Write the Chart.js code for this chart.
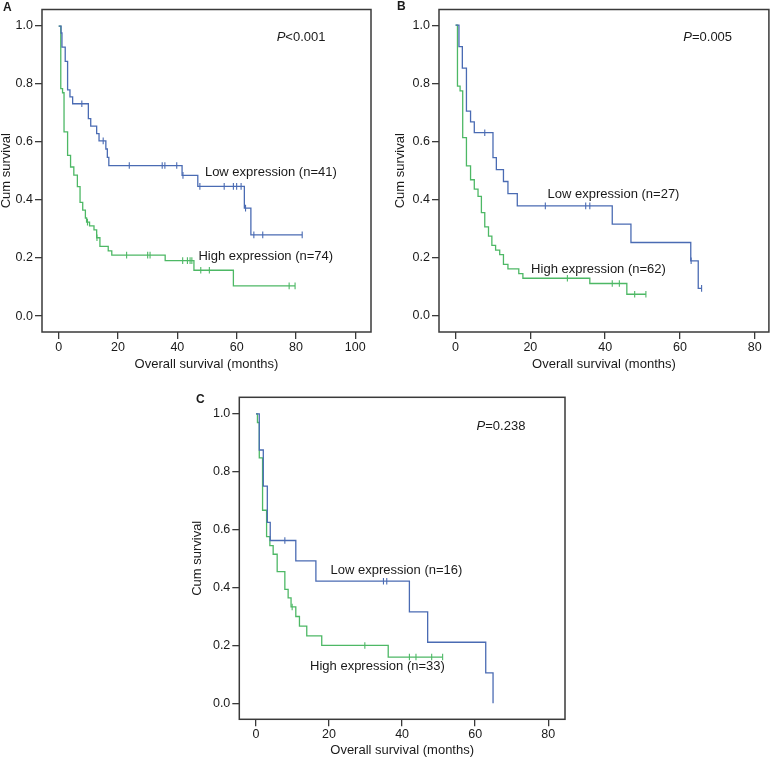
<!DOCTYPE html>
<html><head><meta charset="utf-8">
<script src="https://cdn.jsdelivr.net/npm/chart.js@4.4.0/dist/chart.umd.min.js"></script>
<style>
html,body{margin:0;padding:0;background:#fff;width:774px;height:758px;overflow:hidden}
canvas{position:absolute;left:0;top:0}
</style></head><body>
<canvas id="cA" width="774" height="758"></canvas>
<canvas id="cB" width="774" height="758"></canvas>
<canvas id="cC" width="774" height="758"></canvas>
<script>
// ---------- Panel A data ----------
const aLowTimes = [0, 0.8, 1.1, 2.2, 3.0, 3.8, 4.7, 10.0, 10.8, 12.8, 13.6, 15.9, 16.4, 16.9, 41.6, 46.9, 62.6, 64.8];
const aLowSurv  = [1.0, 0.976, 0.927, 0.878, 0.780, 0.756, 0.732, 0.681, 0.655, 0.629, 0.604, 0.576, 0.547, 0.519, 0.485, 0.447, 0.372, 0.280];
const aLowCensored = [7.8, 15.0, 23.8, 34.9, 35.8, 39.8, 41.9, 47.6, 55.8, 58.9, 60.0, 61.5, 63.0, 65.8, 68.8, 82.1];
const aHighTimes = [0, 0.7, 1.3, 1.8, 3.0, 4.0, 5.1, 6.3, 7.2, 8.1, 9.0, 9.4, 10.4, 11.9, 12.8, 13.9, 16.7, 17.9, 35.9, 45.6, 58.9];
const aHighSurv  = [1.0, 0.784, 0.770, 0.635, 0.554, 0.514, 0.486, 0.446, 0.392, 0.365, 0.338, 0.324, 0.311, 0.297, 0.270, 0.240, 0.225, 0.210, 0.191, 0.158, 0.104];
const aHighCensored = [9.7, 12.9, 22.9, 30.0, 30.8, 41.8, 43.4, 44.3, 44.9, 47.9, 50.8, 77.7, 79.7];
const aXTicks = [0, 20, 40, 60, 80, 100];

// ---------- Panel B data ----------
const bLowTimes = [0, 0.9, 1.8, 2.9, 4.0, 5.0, 10.0, 10.9, 12.8, 14.0, 16.5, 41.9, 46.9, 62.9, 64.9];
const bLowSurv  = [1.0, 0.926, 0.852, 0.704, 0.667, 0.630, 0.544, 0.503, 0.462, 0.420, 0.378, 0.315, 0.252, 0.189, 0.094];
const bLowCensored = [7.8, 24.0, 34.8, 35.9, 63.0, 65.8];
const bHighTimes = [0, 0.5, 1.2, 1.9, 2.9, 4.0, 5.0, 6.0, 6.9, 7.8, 8.8, 9.7, 10.7, 11.8, 12.8, 14.0, 16.9, 18.0, 35.9, 45.8];
const bHighSurv  = [1.0, 0.790, 0.774, 0.613, 0.516, 0.468, 0.436, 0.411, 0.355, 0.306, 0.274, 0.242, 0.226, 0.210, 0.177, 0.161, 0.145, 0.129, 0.111, 0.074];
const bHighCensored = [29.9, 41.9, 43.8, 47.9, 50.9];
const bXTicks = [0, 20, 40, 60, 80];

// ---------- Panel C data ----------
const cLowTimes = [0, 0.9, 2.0, 3.1, 3.9, 10.9, 16.4, 42.0, 47.0, 62.9, 64.9];
const cLowSurv  = [1.0, 0.875, 0.750, 0.625, 0.5625, 0.492, 0.422, 0.316, 0.211, 0.105, 0.0];
const cLowCensored = [7.9, 34.9, 35.8];
const cHighTimes = [0, 0.4, 0.9, 1.8, 2.9, 3.8, 4.7, 5.8, 7.9, 8.8, 9.6, 10.9, 11.9, 13.9, 18.0, 36.2];
const cHighSurv  = [1.0, 0.970, 0.848, 0.667, 0.576, 0.545, 0.515, 0.455, 0.394, 0.364, 0.333, 0.300, 0.267, 0.233, 0.200, 0.160];
const cHighCensored = [9.9, 29.8, 42.0, 43.8, 48.1, 51.1];
const cXTicks = [0, 20, 40, 60, 80];

const yTicks = [0.0, 0.2, 0.4, 0.6, 0.8, 1.0];
const lowLabels = ['Low expression (n=41)', 'Low expression (n=27)', 'Low expression (n=16)'];
const highLabels = ['High expression (n=74)', 'High expression (n=62)', 'High expression (n=33)'];
const pValues = ['<0.001', '=0.005', '=0.238'];

// ---------- styling ----------
const FONT = '"Liberation Sans", Arial, Helvetica, sans-serif';
const BLUE = '#4a6bb3';
const GREEN = '#4db865';
const FRAME = '#3a3a3a';
const TEXT = '#1a1a1a';
Chart.defaults.font.family = FONT;

function stepLine(times, surv, censored) {
  const pts = times.map((t, i) => ({x: t, y: surv[i]}));
  const end = Math.max(times[times.length - 1], censored.length ? censored[censored.length - 1] : 0);
  if (end > times[times.length - 1]) pts.push({x: end, y: surv[surv.length - 1]});
  return pts;
}
function censorPoints(times, surv, censored) {
  return censored.map(c => {
    let s = surv[0];
    for (let i = 0; i < times.length; i++) if (times[i] <= c) s = surv[i];
    return {x: c, y: s};
  });
}

const decor = {
  id: 'decor',
  beforeDatasetsDraw(chart, args, o) {
    const {ctx, chartArea: a} = chart;
    ctx.save();
    ctx.strokeStyle = FRAME; ctx.lineWidth = 1.5;
    ctx.strokeRect(a.left, a.top, a.right - a.left, a.bottom - a.top);
    ctx.restore();
  },
  afterDraw(chart, args, o) {
    const {ctx} = chart; const sx = chart.scales.x, sy = chart.scales.y;
    ctx.save();
    ctx.fillStyle = TEXT; ctx.textBaseline = 'middle'; ctx.textAlign = 'left';
    const px = sx.getPixelForValue(o.pPos[0]), py = sy.getPixelForValue(o.pPos[1]);
    ctx.font = 'italic 13px ' + FONT; ctx.fillText('P', px, py);
    const w = ctx.measureText('P').width;
    ctx.font = '13px ' + FONT; ctx.fillText(o.pText, px + w, py);
    ctx.fillText(o.lowText, sx.getPixelForValue(o.lowPos[0]), sy.getPixelForValue(o.lowPos[1]));
    ctx.fillText(o.highText, sx.getPixelForValue(o.highPos[0]), sy.getPixelForValue(o.highPos[1]));
    ctx.font = 'bold 12px ' + FONT; ctx.textBaseline = 'alphabetic';
    ctx.fillText(o.letter, o.letterXY[0], o.letterXY[1]);
    ctx.restore();
  }
};

function makePanel(id, d) {
  const lineDs = (data, color) => ({data, stepped: true, borderColor: color, borderWidth: 1.3, pointRadius: 0, fill: false});
  const cenDs = (data, color) => ({data, showLine: false, pointStyle: 'line', rotation: 90, pointRadius: 3.3, borderColor: color, borderWidth: 1.1, backgroundColor: color});
  new Chart(document.getElementById(id), {
    type: 'line',
    data: {datasets: [
      lineDs(stepLine(d.lowT, d.lowS, d.lowC), BLUE),
      lineDs(stepLine(d.highT, d.highS, d.highC), GREEN),
      cenDs(censorPoints(d.lowT, d.lowS, d.lowC), BLUE),
      cenDs(censorPoints(d.highT, d.highS, d.highC), GREEN)
    ]},
    options: {
      responsive: false, animation: false, devicePixelRatio: 1,
      layout: {padding: d.pad},
      plugins: {legend: {display: false}, tooltip: {enabled: false}, decor: d.decor},
      scales: {
        x: {
          type: 'linear', min: d.xMin, max: d.xMax,
          afterBuildTicks: s => { s.ticks = d.xTicks.map(v => ({value: v})); },
          afterFit: s => { s.height = d.xH; },
          grid: {drawOnChartArea: false, tickLength: 7, color: FRAME, lineWidth: 1.3},
          border: {display: false},
          ticks: {font: {size: 12.5}, color: TEXT, padding: 1, maxRotation: 0, autoSkip: false, callback: v => String(v)},
          title: {display: true, text: 'Overall survival (months)', font: {size: 13, lineHeight: 1}, color: TEXT, padding: 0}
        },
        y: {
          type: 'linear', min: d.yMin, max: d.yMax,
          afterBuildTicks: s => { s.ticks = yTicks.map(v => ({value: v})); },
          afterFit: s => { s.width = d.yW; },
          grid: {drawOnChartArea: false, tickLength: 7, color: FRAME, lineWidth: 1.3},
          border: {display: false},
          ticks: {font: {size: 12.5}, color: TEXT, padding: 2, autoSkip: false, callback: v => v.toFixed(1)},
          title: {display: true, text: 'Cum survival', font: {size: 13, lineHeight: 1}, color: TEXT, padding: 0}
        }
      }
    },
    plugins: [decor]
  });
}

makePanel('cA', {
  lowT: aLowTimes, lowS: aLowSurv, lowC: aLowCensored,
  highT: aHighTimes, highS: aHighSurv, highC: aHighCensored,
  xTicks: aXTicks, xMin: -5.63, xMax: 105.3, yMin: -0.055, yMax: 1.057,
  yW: 42, xH: 38.8, pad: {left: 0, right: 403, top: 8, bottom: 387.2},
  decor: {pText: pValues[0], pPos: [73.5, 0.961], lowText: lowLabels[0], lowPos: [49.3, 0.495],
          highText: highLabels[0], highPos: [47.1, 0.206], letter: 'A', letterXY: [3, 10.5]}
});
makePanel('cB', {
  lowT: bLowTimes, lowS: bLowSurv, lowC: bLowCensored,
  highT: bHighTimes, highS: bHighSurv, highC: bHighCensored,
  xTicks: bXTicks, xMin: -4.44, xMax: 83.8, yMin: -0.056, yMax: 1.054,
  yW: 45.5, xH: 38.8, pad: {left: 393.5, right: 3, top: 3, bottom: 387.2},
  decor: {pText: pValues[1], pPos: [60.9, 0.957], lowText: lowLabels[1], lowPos: [24.6, 0.417],
          highText: highLabels[1], highPos: [20.2, 0.159], letter: 'B', letterXY: [397, 9.5]}
});
makePanel('cC', {
  lowT: cLowTimes, lowS: cLowSurv, lowC: cLowCensored,
  highT: cHighTimes, highS: cHighSurv, highC: cHighCensored,
  xTicks: cXTicks, xMin: -4.57, xMax: 84.6, yMin: -0.055, yMax: 1.057,
  yW: 48.3, xH: 37.9, pad: {left: 191, right: 209, top: 397.3, bottom: 0.8},
  decor: {pText: pValues[2], pPos: [60.4, 0.958], lowText: lowLabels[2], lowPos: [20.4, 0.458],
          highText: highLabels[2], highPos: [14.8, 0.126], letter: 'C', letterXY: [196, 402.5]}
});
</script>
</body></html>
